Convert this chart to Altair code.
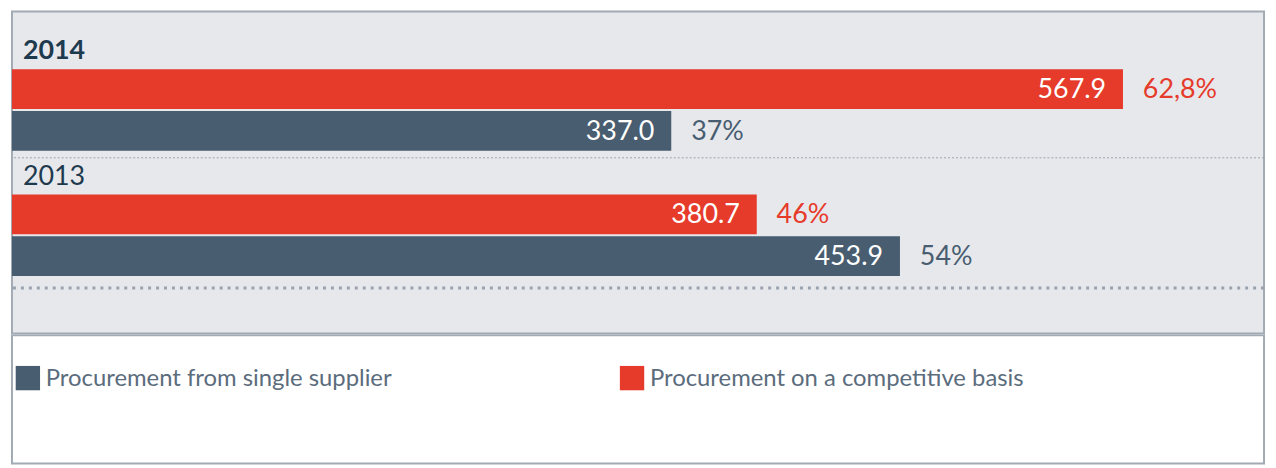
import altair as alt
import pandas as pd

# ---- data ----
years = ["2014", "2014", "2013", "2013"]
series = [
    "Procurement on a competitive basis",
    "Procurement from single supplier",
    "Procurement on a competitive basis",
    "Procurement from single supplier",
]
values = [567.9, 337.0, 380.7, 453.9]
value_labels = ["567.9", "337.0", "380.7", "453.9"]
pct_labels = ["62,8%", "37%", "46%", "54%"]
slots = ["2014 competitive", "2014 single", "2013 competitive", "2013 single"]

year_labels = ["2014", "2013"]
year_slots = ["2014 label", "2013 label"]
slot_order = ["2014 label", "2014 competitive", "2014 single",
              "2013 label", "2013 competitive", "2013 single"]

legend_order = ["Procurement from single supplier", "Procurement on a competitive basis"]
colors = ["#485d70", "#e63a2a"]

bars = pd.DataFrame({"year": years, "series": series, "value": values,
                     "vlabel": value_labels, "plabel": pct_labels, "slot": slots})
ylab = pd.DataFrame({"year": year_labels, "slot": year_slots})
sep_fine = pd.DataFrame({"slot": ["2013 label"]})
sep_bold = pd.DataFrame({"slot": ["2013 single"]})
leg = pd.DataFrame({"series": legend_order})

FONT = "Lato"
W = 1260

y_scale = alt.Scale(domain=slot_order, paddingInner=0.048, paddingOuter=0.881, align=0.22)
x_scale = alt.Scale(domain=[0, 640], nice=False, zero=True)
color_scale = alt.Scale(domain=legend_order, range=colors)

Y = alt.Y("slot:N", scale=y_scale, axis=None)
X = alt.X("value:Q", scale=x_scale, axis=None)

bar = alt.Chart(bars).mark_bar().encode(
    x=X, y=Y, color=alt.Color("series:N", scale=color_scale, legend=None)
)
vtext = alt.Chart(bars).mark_text(
    align="right", baseline="middle", dx=-17, dy=1, fontSize=27, font=FONT, color="white"
).encode(x=X, y=Y, text="vlabel:N")
ptext = alt.Chart(bars).mark_text(
    align="left", baseline="middle", dx=20, dy=1, fontSize=27, font=FONT
).encode(x=X, y=Y, text="plabel:N",
         color=alt.Color("series:N", scale=color_scale, legend=None))

ytext_bold = alt.Chart(ylab).transform_filter(alt.datum.year == "2014").mark_text(
    align="left", baseline="middle", dx=11, dy=4, fontSize=27, font=FONT,
    fontWeight="bold", color="#1e3a4f"
).encode(x=alt.value(0), y=Y, text="year:N")
ytext_norm = alt.Chart(ylab).transform_filter(alt.datum.year == "2013").mark_text(
    align="left", baseline="middle", dx=11, dy=4, fontSize=27, font=FONT,
    color="#1e3a4f"
).encode(x=alt.value(0), y=Y, text="year:N")

rule_fine = alt.Chart(sep_fine).mark_rule(
    color="#9aa3ad", strokeWidth=1, strokeDash=[2, 2], yOffset=5
).encode(y=alt.Y("slot:N", scale=y_scale, axis=None, bandPosition=0))
rule_bold = alt.Chart(sep_bold).mark_rule(
    color="#9aa3ad", strokeWidth=3, strokeDash=[3, 5], yOffset=12
).encode(y=alt.Y("slot:N", scale=y_scale, axis=None, bandPosition=1))

top = alt.layer(rule_fine, rule_bold, bar, vtext, ptext, ytext_bold, ytext_norm).properties(
    width=W, height=324,
    view=alt.ViewBackground(fill="#e7e8ec", stroke="#a2aab3", strokeWidth=2),
)

leg_x = alt.X("series:N", scale=alt.Scale(type="point", domain=legend_order,
                                           range=[16, 624], padding=0), axis=None)
swatch = alt.Chart(leg).mark_square(size=600, opacity=1).encode(
    x=leg_x, y=alt.value(43),
    color=alt.Color("series:N", scale=color_scale, legend=None),
)
legtext = alt.Chart(leg).mark_text(
    align="left", baseline="middle", dx=18, dy=1, fontSize=24, font=FONT, color="#5b6c7d"
).encode(x=leg_x, y=alt.value(43), text="series:N")

bottom = alt.layer(swatch, legtext).properties(
    width=W, height=129,
    view=alt.ViewBackground(fill="white", stroke="#a2aab3", strokeWidth=2),
)

chart = alt.vconcat(top, bottom, spacing=0).properties(
    padding=1, background="white"
)

chart.save("out.html", embed_options={"renderer": "svg", "actions": False})
